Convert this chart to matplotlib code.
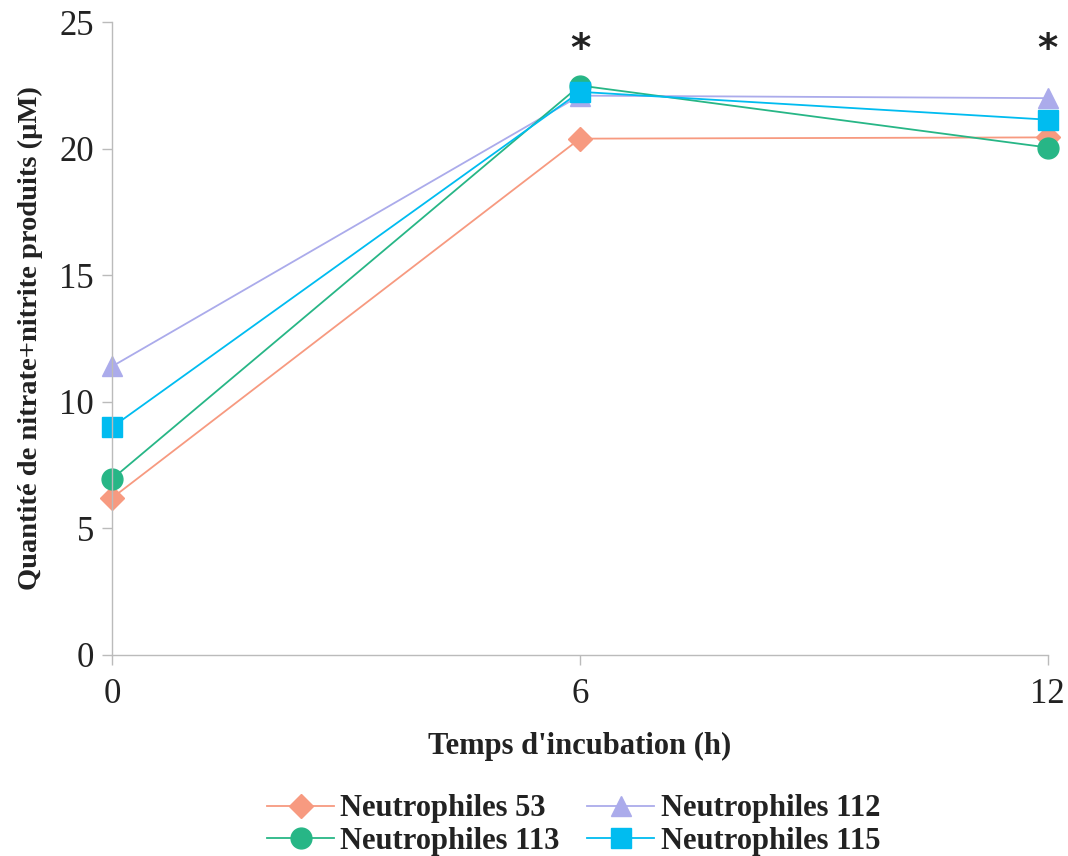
import matplotlib
matplotlib.use("Agg")
import matplotlib.pyplot as plt

hours = [0, 6, 12]
n53 = [6.2, 20.4, 20.45]
n112 = [11.4, 22.1, 22.0]
n113 = [6.95, 22.5, 20.05]
n115 = [9.0, 22.25, 21.15]
labels = ["Neutrophiles 53", "Neutrophiles 112", "Neutrophiles 113", "Neutrophiles 115"]
star_x = [6, 12]
star_y = [23.9, 23.9]

plt.rcParams['font.family'] = ['Liberation Serif', 'DejaVu Serif']

fig = plt.figure(figsize=(10.68, 8.56), dpi=100)
ax = fig.add_axes([0.105, 0.235, 0.876, 0.739])

series = [
    (n53, "D", "#F79A80", 12),
    (n112, "^", "#ABABEB", 15),
    (n113, "o", "#27B686", 15),
    (n115, "s", "#00BCF0", 14),
]
handles = []
for (vals, m, c, ms), lab in zip(series, labels):
    h, = ax.plot(hours, vals, marker=m, color=c, markersize=ms, linewidth=1.3,
                 markeredgecolor=c, label=lab, clip_on=False)
    handles.append(h)

for sx, sy in zip(star_x, star_y):
    ax.text(sx, sy, "*", ha="center", va="center", fontsize=28, fontweight='bold',
            color="#222222", family=['DejaVu Sans'])

ax.set_xlim(0, 12)
ax.set_ylim(0, 25)
ax.set_xticks(hours)
ax.set_yticks([0, 5, 10, 15, 20, 25])
ax.tick_params(axis='both', labelsize=25, color="#BBBBBB", length=7, width=1, labelcolor="#222222")
ax.tick_params(axis='x', pad=10)
ax.tick_params(axis='y', pad=6)
ax.spines['top'].set_visible(False)
ax.spines['right'].set_visible(False)
for s in ['left', 'bottom']:
    ax.spines[s].set_color("#BBBBBB")
    ax.spines[s].set_linewidth(1)

ax.set_xlabel("Temps d'incubation (h)", fontsize=22, fontweight='bold', color="#222222", labelpad=15)
ax.set_ylabel("Quantité de nitrate+nitrite produits (µM)", fontsize=20.5, fontweight='bold', color="#222222", labelpad=12)

order = [0, 2, 1, 3]
leg = fig.legend(handles=[handles[i] for i in order], labels=[labels[i] for i in order],
                 loc='center', bbox_to_anchor=(0.537, 0.036), ncol=2,
                 frameon=False, prop={'size': 22, 'weight': 'bold'},
                 handlelength=2.2, handletextpad=0.2, columnspacing=0.9, labelspacing=0.12)
for t in leg.get_texts():
    t.set_color("#222222")

fig.savefig("out.png", dpi=100)
